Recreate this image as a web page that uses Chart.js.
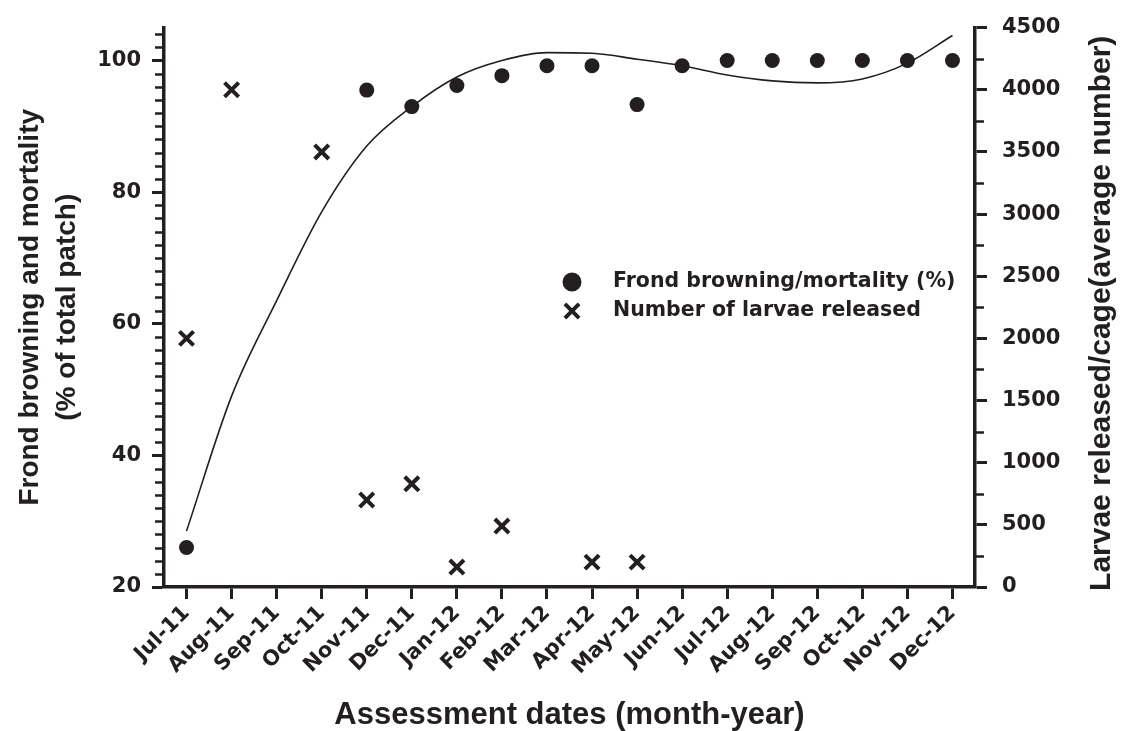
<!DOCTYPE html>
<html>
<head>
<meta charset="utf-8">
<script src="https://cdn.jsdelivr.net/npm/chart.js@4.4.1/dist/chart.umd.min.js"></script>
<style>
  body { margin: 0; background: #fff; }
  #wrap { width: 1128px; height: 731px; }
</style>
</head>
<body>
<div id="wrap"><canvas id="chart"></canvas></div>
<script>
const months = ["Jul-11", "Aug-11", "Sep-11", "Oct-11", "Nov-11", "Dec-11",
  "Jan-12", "Feb-12", "Mar-12", "Apr-12", "May-12", "Jun-12",
  "Jul-12", "Aug-12", "Sep-12", "Oct-12", "Nov-12", "Dec-12"];

// frond browning / mortality (%), left axis
const browning = [26, null, null, null, 95.5, 93.0, 96.2, 97.7, 99.2, 99.2, 93.3, 99.2,
  100, 100, 100, 100, 100, 100];

// fitted trend line at each month
const trend = [28.5, 49, 63.5, 77, 87, 93, 97.5, 100, 101.2, 101.1, 100.2, 99.2,
  97.8, 96.9, 96.6, 97.2, 99.6, 103.8];

// larvae released per cage, right axis
const larvae = [2000, 4000, null, 3500, 700, 830, 160, 490, null, 200, 200, null,
  null, null, null, null, null, null];

const rightTitle = "Larvae released/cage(average number)";

const ink = "#231f20";
const tickFont = { family: "DejaVu Sans", weight: "bold", size: 21 };
const titleFont = { family: "Liberation Sans", weight: "bold" };

const minorTicks = {
  id: "minorTicks",
  afterDraw(chart) {
    const ctx = chart.ctx;
    const yl = chart.scales.y, yr = chart.scales.y2;
    ctx.save();
    ctx.strokeStyle = ink;
    ctx.lineWidth = 2.5;
    for (let v = 22; v < 105; v += 2) {
      if (v % 20 === 0) continue;
      const py = Math.round(yl.getPixelForValue(v)) + 0.5;
      ctx.beginPath(); ctx.moveTo(yl.right - 9, py); ctx.lineTo(yl.right, py); ctx.stroke();
    }
    for (let v = 250; v < 4500; v += 500) {
      const py = Math.round(yr.getPixelForValue(v)) + 0.5;
      ctx.beginPath(); ctx.moveTo(yr.left, py); ctx.lineTo(yr.left + 9, py); ctx.stroke();
    }
    // right axis title reads bottom to top, like the left one
    const area = chart.chartArea;
    ctx.translate(1102, (area.top + area.bottom) / 2 + 6);
    ctx.rotate(-Math.PI / 2);
    ctx.fillStyle = ink;
    ctx.font = "bold 30px 'Liberation Sans'";
    ctx.textAlign = "center";
    ctx.textBaseline = "middle";
    ctx.fillText(rightTitle, 0, 0);
    ctx.restore();
  }
};

const innerLegend = {
  id: "innerLegend",
  afterDraw(chart) {
    const ctx = chart.ctx;
    const rows = [
      { style: "circle", r: 7.5, text: "Frond browning/mortality (%)", y: 282 },
      { style: "crossRot", r: 10, text: "Number of larvae released", y: 311 }
    ];
    ctx.save();
    ctx.fillStyle = ink;
    ctx.strokeStyle = ink;
    ctx.font = "bold 20.5px 'DejaVu Sans'";
    ctx.textBaseline = "middle";
    rows.forEach(row => {
      ctx.lineWidth = 4;
      Chart.helpers.drawPoint(ctx, { pointStyle: row.style, radius: row.r, borderWidth: 4, rotation: 0 }, 572, row.y);
      ctx.fillText(row.text, 613, row.y);
    });
    ctx.restore();
  }
};

new Chart(document.getElementById("chart"), {
  type: "line",
  data: {
    labels: months,
    datasets: [
      {
        label: "Trend",
        data: trend,
        yAxisID: "y",
        borderColor: ink,
        borderWidth: 1.6,
        pointRadius: 0,
        cubicInterpolationMode: "monotone",
        fill: false
      },
      {
        label: "Frond browning/mortality (%)",
        data: browning,
        yAxisID: "y",
        showLine: false,
        pointStyle: "circle",
        pointRadius: 7.5,
        pointBorderWidth: 0,
        pointBackgroundColor: ink,
        borderColor: ink
      },
      {
        label: "Number of larvae released",
        data: larvae,
        yAxisID: "y2",
        showLine: false,
        pointStyle: "crossRot",
        pointRadius: 10,
        pointBorderWidth: 4,
        pointBorderColor: ink,
        borderColor: ink
      }
    ]
  },
  options: {
    responsive: true,
    maintainAspectRatio: false,
    animation: false,
    layout: { padding: { top: 20, left: 0, right: 0, bottom: 0 } },
    plugins: {
      legend: { display: false },
      tooltip: { enabled: false }
    },
    scales: {
      x: {
        offset: true,
        grid: { display: true, drawOnChartArea: false, tickLength: 12, tickWidth: 3, tickColor: ink },
        border: { display: true, color: ink, width: 3.5 },
        ticks: { color: ink, font: tickFont, autoSkip: false, minRotation: 45, maxRotation: 45, padding: 2 },
        title: {
          display: true,
          text: "Assessment dates (month-year)",
          color: ink,
          font: { ...titleFont, size: 31, lineHeight: 1 },
          padding: { top: 0, bottom: 0 }
        },
        afterFit(scale) { scale.height = 144; }
      },
      y: {
        position: "left",
        min: 20,
        max: 105,
        grid: { drawOnChartArea: false, tickLength: 12, tickWidth: 3, tickColor: ink },
        border: { display: true, color: ink, width: 3.5 },
        ticks: { stepSize: 20, includeBounds: false, color: ink, font: tickFont, padding: 11 },
        title: {
          display: true,
          text: ["Frond browning and mortality", "(% of total patch)"],
          color: ink,
          font: { ...titleFont, size: 28, lineHeight: 1.35 },
          padding: { top: 11, bottom: 0 }
        },
        afterFit(scale) { scale.width = 164; }
      },
      y2: {
        position: "right",
        min: 0,
        max: 4500,
        grid: { drawOnChartArea: false, tickLength: 12, tickWidth: 3, tickColor: ink },
        border: { display: true, color: ink, width: 3.5 },
        ticks: { stepSize: 500, color: ink, font: tickFont, padding: 15, callback: v => String(v) },
        title: { display: false },
        afterFit(scale) { scale.width = 153; }
      }
    }
  },
  plugins: [minorTicks, innerLegend]
});
</script>
</body>
</html>
